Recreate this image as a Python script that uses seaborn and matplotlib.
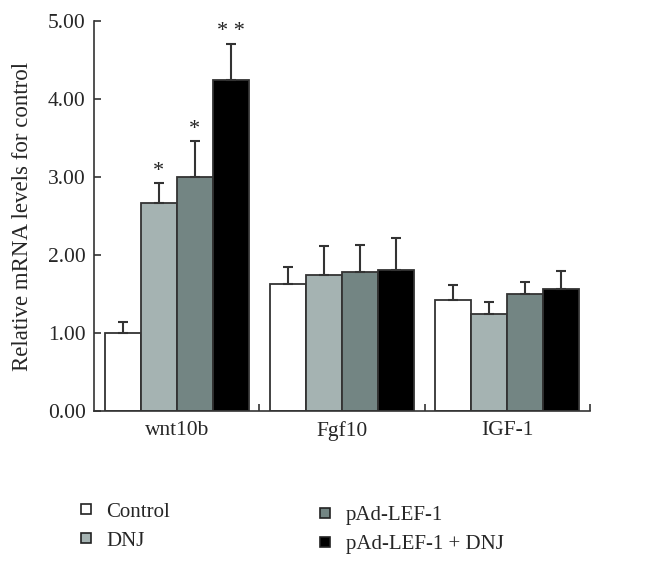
import numpy as np
import pandas as pd
import seaborn as sns
import matplotlib.pyplot as plt
from matplotlib.lines import Line2D

genes = ["wnt10b", "Fgf10", "IGF-1"]
groups = ["Control", "DNJ", "pAd-LEF-1", "pAd-LEF-1 + DNJ"]
colors = ["#ffffff", "#a5b3b2", "#738583", "#000000"]

control = [1.00, 1.63, 1.42]
dnj = [2.67, 1.74, 1.24]
lef = [3.00, 1.78, 1.50]
lef_dnj = [4.24, 1.81, 1.56]

control_err = [0.14, 0.22, 0.20]
dnj_err = [0.25, 0.38, 0.16]
lef_err = [0.46, 0.35, 0.15]
lef_dnj_err = [0.47, 0.41, 0.24]

stars = {("wnt10b", "DNJ"): "*", ("wnt10b", "pAd-LEF-1"): "*",
         ("wnt10b", "pAd-LEF-1 + DNJ"): "* *"}

values = [control, dnj, lef, lef_dnj]
errors = [control_err, dnj_err, lef_err, lef_dnj_err]
rows = []
for g, vals, errs in zip(groups, values, errors):
    for gene, v, e in zip(genes, vals, errs):
        rows.append({"gene": gene, "group": g, "value": v, "err": e})
df = pd.DataFrame(rows)

sns.set_style("ticks")
plt.rcParams["font.family"] = ["Liberation Serif", "DejaVu Serif"]

fig = plt.figure(figsize=(6.58, 5.66), dpi=100)
ax = fig.add_axes([0.1429, 0.2739, 0.7538, 0.689])

sns.barplot(data=df, x="gene", y="value", hue="group", order=genes,
            hue_order=groups, palette=colors, width=0.87, gap=0,
            edgecolor="#333333", linewidth=1.3, errorbar=None,
            legend=False, ax=ax, saturation=1)

for g, cont in zip(groups, ax.containers):
    sub = df[df["group"] == g].set_index("gene").loc[genes]
    xs = [b.get_x() + b.get_width() / 2 for b in cont]
    hs = [b.get_height() for b in cont]
    errs = sub["err"].values
    ax.errorbar(xs, hs, yerr=[np.zeros(len(errs)), errs], fmt="none",
                ecolor="#333333", elinewidth=1.5, capsize=3.5, capthick=1.5,
                zorder=1)
    for gene, x, h, e in zip(genes, xs, hs, errs):
        s = stars.get((gene, g))
        if s:
            ax.text(x, h + e + 0.03, s, ha="center", va="bottom",
                    fontsize=16, color="#222222")

ax.set_xlim(-0.5, 2.5)
ax.set_ylim(0, 5)
ax.set_yticks([0, 1, 2, 3, 4, 5])
ax.set_yticklabels(["0.00", "1.00", "2.00", "3.00", "4.00", "5.00"])
ax.set_xticks([0, 1, 2])
ax.set_xticklabels(genes)
ax.set_xticks([0.5, 1.5, 2.5], minor=True)
ax.tick_params(axis="x", which="major", length=0, pad=7, labelsize=15.5)
ax.tick_params(axis="x", which="minor", direction="in", length=5,
               width=1.2, color="#333333")
ax.tick_params(axis="y", direction="in", length=5, width=1.2,
               color="#333333", labelsize=15.5, pad=6)
ax.set_xlabel("")
ax.set_ylabel("Relative mRNA levels for control", fontsize=16.5)
ax.yaxis.set_label_coords(-0.123, 0.5)
for side in ["top", "right"]:
    ax.spines[side].set_visible(False)
for side in ["left", "bottom"]:
    ax.spines[side].set_color("#333333")
    ax.spines[side].set_linewidth(1.2)


def handle(c):
    return Line2D([], [], marker="s", linestyle="none", markersize=7,
                  markerfacecolor=c, markeredgecolor="#222222",
                  markeredgewidth=1.2)


fig.legend([handle(colors[0]), handle(colors[1])], groups[:2],
           loc="upper left", bbox_to_anchor=(0.086, 0.146),
           frameon=False, fontsize=15, handletextpad=0.5,
           labelspacing=0.45, handlelength=1.0)
fig.legend([handle(colors[2]), handle(colors[3])], groups[2:],
           loc="upper left", bbox_to_anchor=(0.45, 0.14),
           frameon=False, fontsize=15, handletextpad=0.5,
           labelspacing=0.45, handlelength=1.0)

fig.savefig("out.png", dpi=100, facecolor="white")
